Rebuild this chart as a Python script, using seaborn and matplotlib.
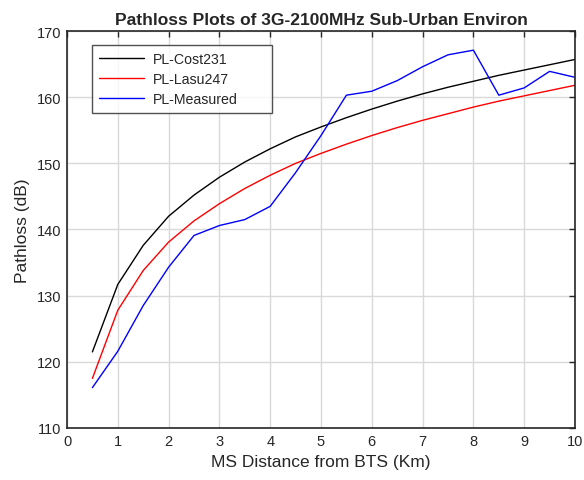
import numpy as np
import pandas as pd
import matplotlib
matplotlib.use("Agg")
import matplotlib.pyplot as plt
import seaborn as sns

# distance from BTS (km)
distance = [0.5, 1, 1.5, 2, 2.5, 3, 3.5, 4, 4.5, 5,
            5.5, 6, 6.5, 7, 7.5, 8, 8.5, 9, 9.5, 10]

# pathloss values (dB)
pl_cost231 = [121.5, 131.7, 137.6, 142.0, 145.2, 147.9, 150.2, 152.2, 154.0, 155.5,
              156.9, 158.2, 159.4, 160.5, 161.5, 162.4, 163.3, 164.1, 164.9, 165.7]
pl_lasu247 = [117.5, 127.8, 133.8, 138.1, 141.3, 143.9, 146.2, 148.2, 150.0, 151.5,
              152.9, 154.2, 155.4, 156.5, 157.5, 158.5, 159.4, 160.2, 161.0, 161.8]
pl_measured = [116.1, 121.6, 128.5, 134.3, 139.1, 140.6, 141.5, 143.5, 148.6, 154.2,
               160.3, 160.9, 162.5, 164.6, 166.4, 167.1, 160.3, 161.4, 163.9, 163.0]

df = pd.DataFrame({
    "dist": distance * 3,
    "pl": pl_cost231 + pl_lasu247 + pl_measured,
    "model": ["PL-Cost231"] * 20 + ["PL-Lasu247"] * 20 + ["PL-Measured"] * 20,
})

sns.set_style("white")
plt.rcParams["font.family"] = ["Liberation Sans", "DejaVu Sans"]

fig = plt.figure(figsize=(5.84, 4.81), dpi=100)
ax = fig.add_axes([67 / 584, 1 - 429 / 481, (575 - 67) / 584, (429 - 32) / 481])

sns.lineplot(data=df, x="dist", y="pl", hue="model",
             palette=["black", "red", "blue"], linewidth=1.0, ax=ax)

ax.set_xlim(0, 10)
ax.set_ylim(110, 170)
ax.set_xticks(range(0, 11))
ax.set_yticks(range(110, 171, 10))
ax.grid(True, color="#d9d9d9", linewidth=1.0)
ax.tick_params(direction="in", length=4, width=1, top=True, right=True,
               labelsize=10.5, colors="#262626", pad=4)
for s in ax.spines.values():
    s.set_color("#262626")
    s.set_linewidth(1.2)

ax.set_xlabel("MS Distance from BTS (Km)", fontsize=12.5, color="#262626", labelpad=5)
ax.set_ylabel("Pathloss (dB)", fontsize=12.5, color="#262626", labelpad=5)
ax.set_title("Pathloss Plots of 3G-2100MHz Sub-Urban Environ",
             fontsize=12.5, fontweight="bold", pad=5)

# MATLAB style legend: extra space on the right
leg = ax.legend(loc="upper left", bbox_to_anchor=(0.049, 0.5, 0.354, 0.465),
                mode="expand", borderaxespad=0, fontsize=10.2,
                frameon=True, fancybox=False, edgecolor="#262626",
                handlelength=3.2, handletextpad=0.6, borderpad=0.5,
                labelspacing=0.42)
leg.get_frame().set_linewidth(1.0)

fig.savefig("out.png", dpi=100)
